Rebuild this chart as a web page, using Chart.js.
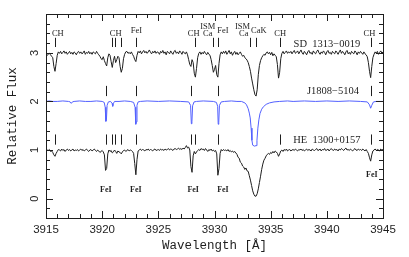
<!DOCTYPE html>
<html>
<head>
<meta charset="utf-8">
<script src="https://cdn.jsdelivr.net/npm/chart.js@4/dist/chart.umd.min.js"></script>
<style>
  html, body { margin: 0; padding: 0; background: #fff; }
  canvas { display: block; }
</style>
</head>
<body>
<canvas id="spec" width="409" height="257"></canvas>
<script>
// spectra (0.1 A sampling for the two noisy ones)

const waveStart = 3915;
const waveStep = 0.1;

// SD 1313-0019 (top)
const topFlux = [
  2.98, 2.95, 2.97, 2.99, 2.96, 2.93, 2.90, 2.72, 2.62, 2.78,
  2.95, 3.02, 2.99, 3.03, 2.98, 3.01, 3.04, 2.99, 3.02, 2.97,
  3.00, 3.03, 2.98, 3.01, 2.97, 3.02, 3.00, 2.96, 3.01, 3.03,
  2.99, 3.02, 2.98, 3.00, 3.04, 2.97, 3.01, 2.99, 3.03, 2.98,
  3.01, 2.97, 3.02, 3.00, 2.98, 3.03, 2.99, 2.96, 2.93, 2.88,
  2.86, 2.92, 2.84, 2.78, 2.73, 2.90, 2.98, 2.95, 2.82, 2.70,
  2.84, 2.93, 2.80, 2.86, 2.93, 2.90, 2.72, 2.60, 2.68, 2.88,
  2.97, 3.02, 3.03, 2.99, 3.01, 2.98, 3.02, 2.97, 2.93, 2.86,
  2.82, 2.95, 3.03, 3.00, 3.04, 2.98, 3.02, 3.05, 3.00, 3.03,
  2.99, 3.02, 3.06, 3.01, 2.98, 3.03, 3.00, 3.04, 2.99, 3.02,
  3.01, 2.97, 3.03, 3.00, 3.05, 2.99, 3.02, 2.96, 3.03, 3.01,
  2.98, 3.04, 3.00, 2.97, 3.03, 3.05, 2.99, 3.02, 2.98, 3.04,
  3.01, 2.97, 3.03, 3.00, 2.98, 3.02, 2.96, 2.86, 2.76, 2.72,
  2.86, 2.80, 2.58, 2.50, 2.68, 2.90, 2.99, 3.02, 2.97, 3.01,
  2.98, 3.03, 2.99, 2.96, 3.01, 2.97, 2.95, 2.86, 2.74, 2.60,
  2.66, 2.74, 2.55, 2.50, 2.78, 2.96, 3.02, 2.98, 3.03, 2.99,
  3.04, 2.97, 3.01, 3.05, 2.98, 3.02, 2.95, 3.00, 3.03, 2.97,
  3.01, 2.96, 2.99, 3.02, 2.97, 2.93, 2.95, 2.90, 2.88, 2.85,
  2.80, 2.72, 2.62, 2.48, 2.36, 2.24, 2.14, 2.11, 2.24, 2.55,
  2.74, 2.84, 2.90, 2.94, 2.97, 2.95, 3.00, 3.02, 2.98, 3.01,
  2.96, 3.01, 2.94, 2.98, 2.95, 2.92, 2.76, 2.48, 2.60, 2.88,
  2.99, 3.03, 2.98, 3.01, 3.04, 2.99, 3.02, 3.00, 3.03, 2.98,
  3.02, 3.05, 2.99, 3.01, 3.04, 2.98, 3.02, 3.06, 3.00, 2.97,
  3.03, 3.00, 2.96, 3.02, 3.05, 2.99, 3.01, 2.97, 3.04, 3.00,
  2.98, 3.03, 3.06, 3.00, 2.97, 3.02, 2.99, 3.04, 3.01, 2.96,
  3.02, 3.05, 2.99, 3.01, 2.97, 3.03, 3.00, 2.98, 3.04, 3.01,
  2.97, 3.02, 3.06, 2.99, 3.03, 3.00, 2.96, 3.02, 3.05, 2.98,
  3.01, 2.97, 3.03, 3.00, 2.98, 3.04, 3.01, 2.96, 3.02, 2.99,
  3.03, 3.00, 2.97, 3.02, 2.98, 2.96, 2.92, 2.80, 2.62, 2.49,
  2.72, 2.90, 2.97, 3.02, 2.99, 3.03, 2.97, 3.01, 3.04, 2.99, 3.02
];

// HE 1300+0157 (bottom)
const bottomFlux = [
  1.02, 1.00, 0.99, 1.01, 0.97, 0.98, 0.95, 0.90, 0.87, 0.93,
  0.97, 1.01, 1.00, 0.98, 1.02, 0.99, 1.01, 0.97, 1.00, 1.02,
  0.99, 1.01, 0.98, 1.00, 1.02, 0.98, 1.00, 0.99, 1.01, 0.98,
  1.00, 1.02, 0.99, 1.01, 0.98, 1.00, 1.02, 0.99, 0.97, 1.00,
  1.01, 0.98, 1.00, 1.02, 0.99, 0.97, 1.00, 0.98, 0.95, 0.97,
  0.99, 0.96, 0.90, 0.58, 0.62, 0.92, 1.00, 0.97, 0.99, 0.94,
  0.96, 1.00, 0.97, 0.93, 0.98, 0.96, 0.95, 0.92, 0.96, 0.99,
  1.00, 0.97, 0.99, 1.01, 0.98, 1.00, 0.99, 0.97, 0.93, 0.72,
  0.49, 0.80, 0.98, 1.00, 1.02, 0.99, 1.01, 1.00, 0.98, 1.01,
  1.00, 1.02, 0.99, 1.01, 1.00, 0.98, 1.01, 1.02, 0.99, 1.00,
  1.01, 0.99, 1.02, 1.00, 1.01, 0.99, 1.02, 1.00, 1.01, 1.03,
  1.00, 1.02, 1.01, 0.99, 1.02, 1.03, 1.01, 1.02, 1.04, 1.01,
  1.03, 1.01, 1.04, 1.02, 1.05, 1.09, 1.04, 1.06, 1.00, 0.66,
  0.54, 0.88, 0.97, 0.92, 0.96, 0.99, 1.01, 0.99, 1.03, 1.01,
  1.02, 0.99, 1.03, 1.00, 0.97, 1.01, 0.99, 1.02, 0.98, 1.00,
  0.97, 0.99, 0.92, 0.48, 0.62, 0.93, 1.01, 0.98, 1.01, 0.99,
  1.00, 0.98, 1.01, 0.97, 0.99, 0.96, 0.98, 0.95, 0.97, 0.94,
  0.91, 0.85, 0.83, 0.75, 0.73, 0.67, 0.65, 0.60, 0.63, 0.57,
  0.56, 0.47, 0.38, 0.27, 0.16, 0.09, 0.05, 0.05, 0.10, 0.20,
  0.33, 0.46, 0.60, 0.71, 0.79, 0.83, 0.88, 0.91, 0.93, 0.91,
  0.95, 0.93, 0.97, 0.94, 0.98, 0.96, 0.93, 0.87, 0.92, 0.98,
  1.00, 0.97, 1.01, 0.99, 1.02, 0.98, 1.00, 1.01, 0.98, 1.00,
  1.01, 0.99, 1.02, 1.00, 0.98, 1.01, 1.00, 1.02, 0.99, 1.01,
  0.98, 1.00, 1.02, 0.99, 1.01, 1.00, 0.98, 1.02, 1.00, 0.99,
  1.01, 1.03, 0.99, 1.00, 1.02, 0.98, 1.01, 1.00, 1.03, 0.99,
  1.00, 1.02, 0.98, 1.01, 1.03, 1.00, 0.99, 1.02, 1.00, 1.01,
  0.98, 1.02, 1.00, 1.03, 1.01, 0.99, 1.02, 1.04, 1.00, 1.01,
  0.99, 1.02, 1.00, 0.98, 1.01, 1.03, 1.00, 0.99, 1.02, 1.00,
  1.01, 0.99, 1.02, 1.00, 0.98, 1.01, 0.97, 0.93, 0.84, 0.77,
  0.90, 0.98, 1.00, 1.02, 0.99, 1.01, 1.00, 0.98, 1.02, 1.00, 1.01
];

// J1808-5104 (middle, blue) - smooth, so only the points that matter
const blueWave = [
  3915.0, 3915.3, 3915.6, 3916.0, 3916.5, 3917.0, 3917.15, 3917.25, 3917.35, 3917.5,
  3918.0, 3918.5, 3919.0, 3919.5, 3920.0, 3920.18, 3920.27, 3920.33, 3920.38, 3920.44,
  3920.55, 3920.75, 3920.88, 3920.94, 3921.0, 3921.1, 3921.5, 3922.0, 3922.5, 3922.8,
  3922.93, 3922.99, 3923.04, 3923.1, 3923.2, 3923.4, 3924.0, 3925.0, 3926.0, 3927.0,
  3927.7, 3927.87, 3927.94, 3927.99, 3928.05, 3928.18, 3928.4, 3929.0, 3929.9, 3930.17,
  3930.28, 3930.33, 3930.38, 3930.44, 3930.6, 3930.9, 3931.5, 3932.0, 3932.4, 3932.7,
  3932.85, 3933.0, 3933.1, 3933.18, 3933.26, 3933.33, 3933.4, 3933.55, 3933.7, 3933.78,
  3933.86, 3933.95, 3934.05, 3934.2, 3934.35, 3934.6, 3934.9, 3935.3, 3935.8, 3936.5,
  3937.0, 3938.0, 3939.0, 3940.0, 3941.0, 3942.0, 3943.0, 3943.6, 3943.8, 3943.9,
  3944.0, 3944.15, 3944.4, 3945.0
];
const blueFlux = [
  2.00, 2.01, 2.00, 2.00, 2.01, 2.00, 1.99, 1.96, 1.99, 2.00,
  2.01, 2.00, 2.00, 2.01, 2.00, 1.98, 1.88, 1.59, 1.62, 1.92,
  1.99, 2.00, 1.96, 1.90, 1.96, 2.00, 2.00, 2.01, 2.00, 1.98,
  1.88, 1.53, 1.58, 1.92, 1.99, 2.00, 2.01, 2.00, 2.01, 2.00,
  1.99, 1.92, 1.54, 1.58, 1.91, 1.99, 2.00, 2.01, 2.00, 1.98,
  1.90, 1.53, 1.57, 1.92, 1.99, 2.00, 2.01, 2.00, 2.00, 1.97,
  1.93, 1.85, 1.76, 1.66, 1.45, 1.20, 1.10, 1.08, 1.09, 1.20,
  1.45, 1.62, 1.75, 1.84, 1.89, 1.94, 1.97, 1.99, 2.00, 2.01,
  2.00, 2.01, 2.00, 2.01, 2.00, 2.01, 2.00, 1.99, 1.93, 1.86,
  1.92, 1.99, 2.00, 2.00
];

// line identifications: [text, wavelength]
const topMarks = [3915.8, 3920.85, 3921.15, 3921.7, 3923.0, 3928.3, 3929.9, 3930.35, 3933.2, 3933.7, 3935.8, 3943.9];
const blueMarks = [3920.35, 3923.0, 3927.95, 3930.35, 3943.9];
const bottomMarks = [3915.8, 3920.35, 3920.85, 3921.15, 3921.7, 3923.0, 3927.95, 3928.3, 3930.35, 3935.8, 3943.9];
const topLabels = [["CH", 3916.05], ["CH", 3921.2], ["CH", 3928.15], ["Ca", 3929.4], ["Ca", 3932.6], ["CH", 3935.85], ["CH", 3943.8]];
const topLabelsFe = [["FeI", 3923.05], ["FeI", 3930.75], ["CaK", 3933.95]];
const ismLabels = [["ISM", 3929.4], ["ISM", 3932.5]];
const bottomLabels = [["FeI", 3920.33], ["FeI", 3923.0], ["FeI", 3928.1], ["FeI", 3930.75]];
const bottomLabelsLow = [["FeI", 3944.0]];
const starNames = [["SD  1313\u22120019", 3940.0], ["J1808\u22125104", 3940.55], ["HE  1300+0157", 3940.0]];

const xTicks = [3915, 3920, 3925, 3930, 3935, 3940, 3945];
const yTicks = [0, 1, 2, 3];

const toPoints = (flux) => flux.map((f, i) => ({x: waveStart + i * waveStep, y: f}));

const ink = '#1e1e1e';

// frame with inward ticks on all four sides, tick numbers, line ids
const decorations = {
  id: 'decorations',
  afterDatasetsDraw(chart) {
    const {ctx, chartArea: a, scales: {x, y}} = chart;
    ctx.save();
    ctx.strokeStyle = ink;
    ctx.fillStyle = ink;
    ctx.lineWidth = 1;
    const seg = (x1, y1, x2, y2) => {
      ctx.beginPath(); ctx.moveTo(x1, y1); ctx.lineTo(x2, y2); ctx.stroke();
    };
    ctx.strokeRect(Math.round(a.left) + 0.5, Math.round(a.top) + 0.5, Math.round(a.right - a.left), Math.round(a.bottom - a.top));

    for (let w = 3915; w <= 3945; w++) {
      const px = Math.round(x.getPixelForValue(w)) + 0.5;
      const len = w % 5 === 0 ? 7 : 4;
      seg(px, a.bottom, px, a.bottom - len);
      seg(px, a.top, px, a.top + len);
    }
    for (let k = -2; k <= 19; k++) {
      const py = Math.round(y.getPixelForValue(k * 0.2)) + 0.5;
      const len = k % 5 === 0 ? 7 : 4;
      seg(a.left, py, a.left + len, py);
      seg(a.right, py, a.right - len, py);
    }

    // tick numbers; the y ones are written along the axis
    ctx.font = '11.5px "Liberation Sans", Arial, sans-serif';
    ctx.textAlign = 'center';
    ctx.textBaseline = 'middle';
    xTicks.forEach(v => ctx.fillText(String(v), x.getPixelForValue(v), a.bottom + 12));
    ctx.font = '11px "Liberation Sans", Arial, sans-serif';
    yTicks.forEach(v => {
      ctx.save();
      ctx.translate(a.left - 11, y.getPixelForValue(v));
      ctx.rotate(-Math.PI / 2);
      ctx.fillText(String(v), 0, 0);
      ctx.restore();
    });

    const marks = (list, lo, hi) => list.forEach(w => {
      const px = Math.round(x.getPixelForValue(w)) + 0.5;
      seg(px, y.getPixelForValue(lo), px, y.getPixelForValue(hi));
    });
    marks(topMarks, 3.12, 3.31);
    marks(blueMarks, 2.11, 2.32);
    marks(bottomMarks, 1.11, 1.32);

    ctx.textBaseline = 'alphabetic';
    const write = (list, level, font) => {
      ctx.font = font;
      list.forEach(([t, w]) => ctx.fillText(t, x.getPixelForValue(w), y.getPixelForValue(level)));
    };
    const small = '8.5px "Liberation Serif", "Times New Roman", serif';
    write(topLabels, 3.345, small);
    write(topLabelsFe, 3.40, small);
    write(ismLabels, 3.49, small);
    const bold = 'bold 8px "Liberation Serif", "Times New Roman", serif';
    write(bottomLabels, 0.135, bold);
    write(bottomLabelsLow, 0.45, bold);

    ctx.font = '10.5px "Liberation Serif", "Times New Roman", serif';
    const nameLevels = [3.125, 2.15, 1.15];
    starNames.forEach(([t, w], i) => ctx.fillText(t, x.getPixelForValue(w), y.getPixelForValue(nameLevels[i])));
    ctx.restore();
  }
};

new Chart(document.getElementById('spec'), {
  type: 'line',
  data: {
    datasets: [
      {label: 'SD 1313-0019', data: toPoints(topFlux), borderColor: ink, borderWidth: 1},
      {label: 'J1808-5104', data: blueWave.map((w, i) => ({x: w, y: blueFlux[i]})), borderColor: 'rgb(82,96,255)', borderWidth: 1},
      {label: 'HE 1300+0157', data: toPoints(bottomFlux), borderColor: ink, borderWidth: 1}
    ]
  },
  options: {
    responsive: false,
    animation: false,
    devicePixelRatio: 1,
    layout: {padding: {top: 14, right: 26, left: 0, bottom: 0}},
    elements: {point: {radius: 0}, line: {tension: 0}},
    plugins: {legend: {display: false}, tooltip: {enabled: false}},
    scales: {
      x: {
        type: 'linear',
        min: 3915,
        max: 3945,
        afterBuildTicks: s => { s.ticks = xTicks.map(v => ({value: v})); },
        afterFit: s => { s.height = 39; },
        grid: {display: false},
        border: {display: false},
        ticks: {display: false},
        title: {
          display: true,
          text: 'Wavelength [Å]',
          color: ink,
          padding: {top: 0, bottom: 4},
          font: {family: '"Liberation Mono", "Courier New", monospace', size: 12.5}
        }
      },
      y: {
        min: -0.4,
        max: 3.8,
        afterBuildTicks: s => { s.ticks = yTicks.map(v => ({value: v})); },
        afterFit: s => { s.width = 46; },
        grid: {display: false},
        border: {display: false},
        ticks: {display: false},
        title: {
          display: true,
          text: 'Relative Flux',
          color: ink,
          padding: {top: 5, bottom: 0},
          font: {family: '"Liberation Mono", "Courier New", monospace', size: 12.5}
        }
      }
    }
  },
  plugins: [decorations]
});
</script>
</body>
</html>
